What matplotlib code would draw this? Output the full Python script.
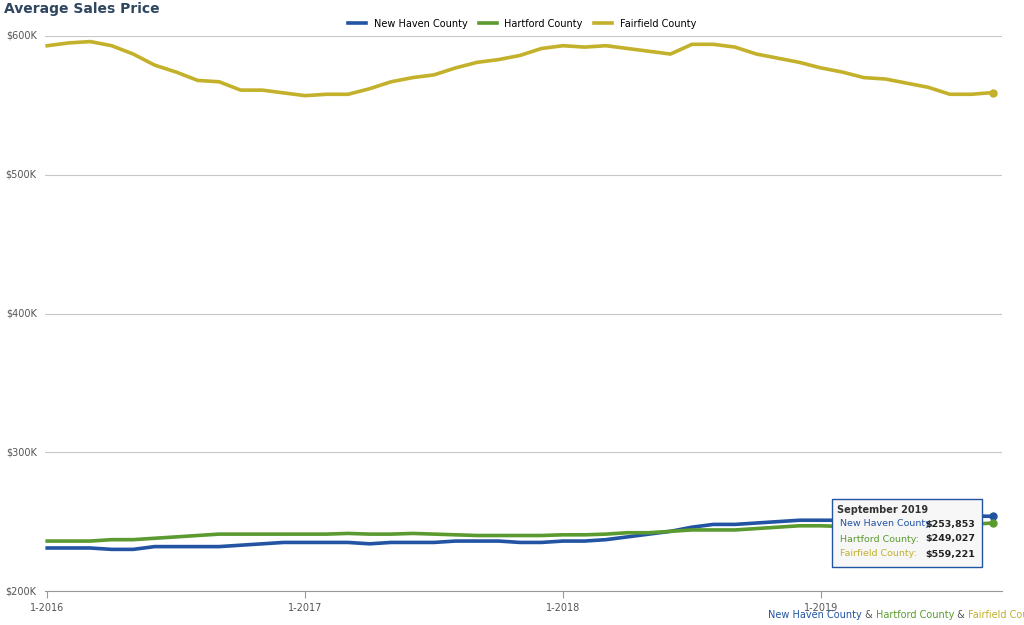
import matplotlib
matplotlib.use("Agg")
import matplotlib.pyplot as plt
from matplotlib.patches import Rectangle

# monthly values Jan 2016 .. Sep 2019, in $K
new_haven = [231, 231, 231, 230, 230, 232, 232, 232, 232, 233, 234, 235,
             235, 235, 235, 234, 235, 235, 235, 236, 236, 236, 235, 235,
             236, 236, 237, 239, 241, 243, 246, 248, 248, 249, 250, 251,
             251, 251, 252, 252, 253, 253, 253, 254, 253.853]
hartford = [236, 236, 236, 237, 237, 238, 239, 240, 241, 241, 241, 241,
            241, 241, 241.5, 241, 241, 241.5, 241, 240.5, 240, 240, 240, 240,
            240.5, 240.5, 241, 242, 242, 243, 244, 244, 244, 245, 246, 247,
            247, 246.5, 247, 247, 248, 248, 248, 248, 249.027]
fairfield = [593, 595, 596, 593, 587, 579, 574, 568, 567, 561, 561, 559,
             557, 558, 558, 562, 567, 570, 572, 577, 581, 583, 586, 591,
             593, 592, 593, 591, 589, 587, 594, 594, 592, 587, 584, 581,
             577, 574, 570, 569, 566, 563, 558, 558, 559.221]
tick_pos = [0, 12, 24, 36]
tick_labels = ["1-2016", "1-2017", "1-2018", "1-2019"]
names = ["New Haven County", "Hartford County", "Fairfield County"]
colors = ["#2254a3", "#5b9a2f", "#c3b02b"]

fig = plt.figure(figsize=(10.24, 6.25), dpi=100)
ax = fig.add_axes([0.044, 0.0544, 0.935, 0.888])
x = list(range(len(fairfield)))
for vals, name, c in zip([new_haven, hartford, fairfield], names, colors):
    ax.plot(x, vals, color=c, lw=2.6, label=name, zorder=3)
    ax.plot(x[-1], vals[-1], "o", color=c, ms=5, zorder=4)

ax.set_xlim(-0.1, 44.45)
ax.set_ylim(200, 600)
ax.set_yticks([200, 300, 400, 500, 600])
ax.set_yticklabels(["$200K", "$300K", "$400K", "$500K", "$600K"])
ax.yaxis.set_tick_params(length=0, labelsize=7, labelcolor="#555555", pad=6)
for lab in ax.get_yticklabels():
    lab.set_verticalalignment("center")
ax.set_xticks(tick_pos)
ax.set_xticklabels(tick_labels)
ax.tick_params(axis="x", labelsize=7, labelcolor="#555555", length=5, color="#999999")
ax.grid(axis="y", color="#c8c8c8", lw=0.8)
for s in ["top", "right", "left"]:
    ax.spines[s].set_visible(False)
ax.spines["bottom"].set_color("#999999")

fig.text(0.004, 0.985, "Average Sales Price", fontsize=10, fontweight="bold",
         color="#2f4560", va="center")
fig.legend(loc="center", bbox_to_anchor=(0.51, 0.962), ncol=3, frameon=False,
           fontsize=7, handlelength=1.8, columnspacing=1.2)

# tooltip
fig.patches.append(Rectangle((832 / 1024, 1 - 567 / 625), 150 / 1024, 68 / 625,
                             transform=fig.transFigure, facecolor="#f7f7f7",
                             edgecolor="#2254a3", lw=1, zorder=10))
fig.text(837 / 1024, 1 - 510 / 625, "September 2019", fontsize=7,
         fontweight="bold", color="#333333", va="center", zorder=11)
vals_last = ["$253,853", "$249,027", "$559,221"]
for i, (name, c, v) in enumerate(zip(names, colors, vals_last)):
    yy = 1 - (524 + 15 * i) / 625
    fig.text(840 / 1024, yy, name + ":", fontsize=6.8, color=c, va="center", zorder=11)
    fig.text(975 / 1024, yy, v, fontsize=6.8, fontweight="bold", color="#222222",
             va="center", ha="right", zorder=11)

# caption, pieces laid out one after another
parts = [("New Haven County", colors[0]), (" & ", "#555555"),
         ("Hartford County", colors[1]), (" & ", "#555555"),
         ("Fairfield County", colors[2])]
renderer = fig.canvas.get_renderer()
xc = 768
for txt, c in parts:
    t = fig.text(xc / 1024, 1 - 615 / 625, txt, fontsize=7, color=c, va="center")
    xc += t.get_window_extent(renderer).width

fig.savefig("out.png", dpi=100)
